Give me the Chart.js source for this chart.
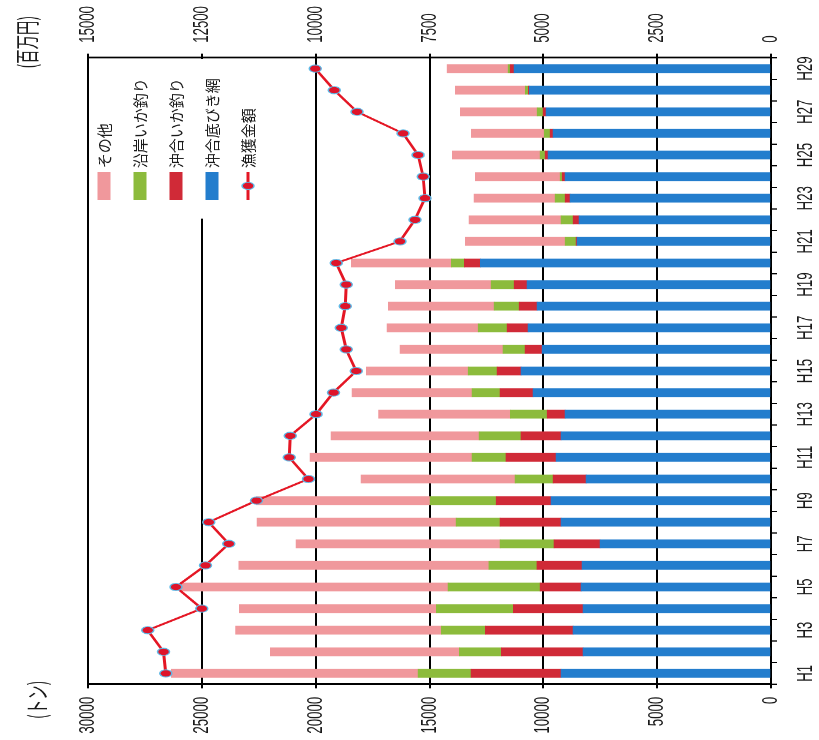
<!DOCTYPE html>
<html lang="ja">
<head>
<meta charset="utf-8">
<title>漁獲量と漁獲金額の推移</title>
<script src="https://cdn.jsdelivr.net/npm/chart.js"></script>
<style>
    html, body { margin: 0; padding: 0; background: #fff; overflow: hidden; }
    /* the chart is drawn upright, then squeezed and turned like the scanned page */
    #frame {
        position: absolute; left: 0; top: 0;
        width: 1233px; height: 819px;
        transform-origin: 0 0;
        transform: translateY(740px) rotate(-90deg) scaleX(0.6);
    }
</style>
</head>
<body>
<div id="frame">
    <canvas id="catchChart" width="1233" height="819"></canvas>
</div>

<script>
    const years = ['H1','H2','H3','H4','H5','H6','H7','H8','H9','H10','H11','H12','H13','H14','H15',
                   'H16','H17','H18','H19','H20','H21','H22','H23','H24','H25','H26','H27','H28','H29'];

    // tonnes
    const sokobiki = [9220, 8250, 8690, 8250, 8340, 8300, 7510, 9220, 9660, 8120, 9440, 9220, 9040, 10450, 10980,
                      10050, 10670, 10270, 10710, 12770, 8520, 8430, 8820, 9040, 9790, 9570, 9880, 10620, 11280];
    const okiIka   = [3950, 3600, 3860, 3070, 1800, 1980, 2020, 2680, 2410, 1450, 2200, 1760, 790, 1450, 1050,
                      750, 920, 790, 570, 700, 40, 260, 220, 130, 130, 130, 130, 40, 175];
    const enganIka = [2330, 1840, 1930, 3380, 4040, 2110, 2370, 1930, 2900, 1670, 1490, 1840, 1620, 1230, 1270,
                      970, 1270, 1100, 1010, 570, 480, 530, 440, 90, 220, 260, 260, 130, 90];
    const sonota   = [10840, 8300, 9040, 8650, 11770, 10980, 8960, 8740, 7640, 6760, 7110, 6500, 5790, 5270, 4480,
                      4520, 4000, 4650, 4210, 4390, 4390, 4040, 3560, 3730, 3860, 3200, 3380, 3070, 2680];

    // million yen
    const kingaku  = [13290, 13340, 13690, 12500, 13070, 12420, 11910, 12350, 11300, 10160, 10580, 10560, 9990, 9610, 9110,
                      9330, 9440, 9350, 9330, 9550, 8150, 7820, 7600, 7640, 7750, 8080, 9090, 9590, 10010];

    const SQUEEZE = 0.6;
    const tickFont = { family: '"Liberation Sans", Arial, sans-serif', size: 22 };
    const jpFont = '"Noto Sans CJK JP", sans-serif';

    // legend sits inside the plot, top right corner, plus the two unit labels
    const pageLabels = {
        id: 'pageLabels',
        afterDraw(chart) {
            const { ctx, chartArea } = chart;
            const right = chartArea.right;
            const top = chartArea.top;
            ctx.save();

            ctx.fillStyle = '#fff';
            ctx.fillRect(right - 268, top + 2, 266, 186);

            const ds = chart.data.datasets;
            const order = [3, 2, 1, 0, 4];
            order.forEach((k, i) => {
                const d = ds[k];
                const y = top + 16 + i * 36;
                const x0 = right - 237;
                if (d.type === 'line') {
                    ctx.strokeStyle = d.borderColor;
                    ctx.lineWidth = 3;
                    ctx.beginPath();
                    ctx.moveTo(x0, y);
                    ctx.lineTo(x0 + 47, y);
                    ctx.stroke();
                    ctx.beginPath();
                    ctx.arc(x0 + 23.5, y, 6, 0, Math.PI * 2);
                    ctx.fillStyle = d.pointBackgroundColor;
                    ctx.fill();
                    ctx.lineWidth = 1.5;
                    ctx.strokeStyle = d.pointBorderColor;
                    ctx.stroke();
                } else {
                    ctx.fillStyle = d.backgroundColor;
                    ctx.fillRect(x0, y - 6.5, 47, 13);
                }
                ctx.save();
                ctx.translate(right - 184, y);
                ctx.scale(1 / SQUEEZE, 1);
                ctx.fillStyle = '#1a1a1a';
                ctx.font = '15px ' + jpFont;
                ctx.textBaseline = 'middle';
                ctx.textAlign = 'left';
                ctx.fillText(d.label, 0, 0);
                ctx.restore();
            });

            ctx.fillStyle = '#1a1a1a';
            ctx.font = '24px ' + jpFont;
            ctx.textAlign = 'center';
            ctx.textBaseline = 'middle';
            ctx.fillText('(トン)', chartArea.left - 26, 37);
            ctx.fillText('(百万円)', right + 26, 27);
            ctx.restore();
        }
    };

    const ctx = document.getElementById('catchChart').getContext('2d');
    const chart = new Chart(ctx, {
        type: 'bar',
        data: {
            labels: years,
            datasets: [
                { label: '沖合底びき網', data: sokobiki, backgroundColor: 'rgb(35,125,205)', yAxisID: 'y', order: 1, barThickness: 14 },
                { label: '沖合いか釣り', data: okiIka, backgroundColor: 'rgb(208,42,55)', yAxisID: 'y', order: 1, barThickness: 14 },
                { label: '沿岸いか釣り', data: enganIka, backgroundColor: 'rgb(140,187,60)', yAxisID: 'y', order: 1, barThickness: 14 },
                { label: 'その他', data: sonota, backgroundColor: 'rgb(240,152,156)', yAxisID: 'y', order: 1, barThickness: 14 },
                {
                    type: 'line',
                    label: '漁獲金額',
                    data: kingaku,
                    yAxisID: 'y1',
                    order: 0,
                    borderColor: 'rgb(228,22,36)',
                    borderWidth: 3,
                    pointRadius: 6,
                    pointBackgroundColor: 'rgb(222,20,42)',
                    pointBorderColor: 'rgb(95,185,230)',
                    pointBorderWidth: 1.5,
                    tension: 0
                }
            ]
        },
        options: {
            responsive: false,
            animation: false,
            devicePixelRatio: 1,
            layout: { padding: { top: 88, left: 0, right: 0, bottom: 0 } },
            plugins: {
                legend: { display: false },
                tooltip: { enabled: false }
            },
            scales: {
                x: {
                    stacked: true,
                    grid: { drawOnChartArea: false, drawTicks: true, tickLength: 6, color: '#000', lineWidth: 2, offset: true },
                    border: { display: true, color: '#000', width: 2 },
                    ticks: {
                        autoSkip: false,
                        maxRotation: 0,
                        padding: 16,
                        color: '#1a1a1a',
                        font: tickFont,
                        callback: function (value, index) {
                            return index % 2 === 0 ? this.getLabelForValue(value) : '';
                        }
                    },
                    afterFit: function (scale) { scale.height = 48; }
                },
                y: {
                    position: 'left',
                    stacked: true,
                    min: 0,
                    max: 30000,
                    grid: { color: '#000', lineWidth: 2, tickLength: 7 },
                    border: { display: true, color: '#000', width: 3 },
                    ticks: {
                        stepSize: 5000,
                        padding: 14,
                        color: '#1a1a1a',
                        font: tickFont,
                        callback: v => String(v)
                    },
                    afterFit: function (scale) { scale.width = 93; }
                },
                y1: {
                    position: 'right',
                    min: 0,
                    max: 15000,
                    grid: { drawOnChartArea: false, color: '#000', lineWidth: 2, tickLength: 7 },
                    border: { display: true, color: '#000', width: 3 },
                    ticks: {
                        stepSize: 2500,
                        padding: 18,
                        color: '#1a1a1a',
                        font: tickFont,
                        callback: v => String(v)
                    },
                    afterFit: function (scale) { scale.width = 96; }
                }
            }
        },
        plugins: [pageLabels]
    });
</script>
</body>
</html>
